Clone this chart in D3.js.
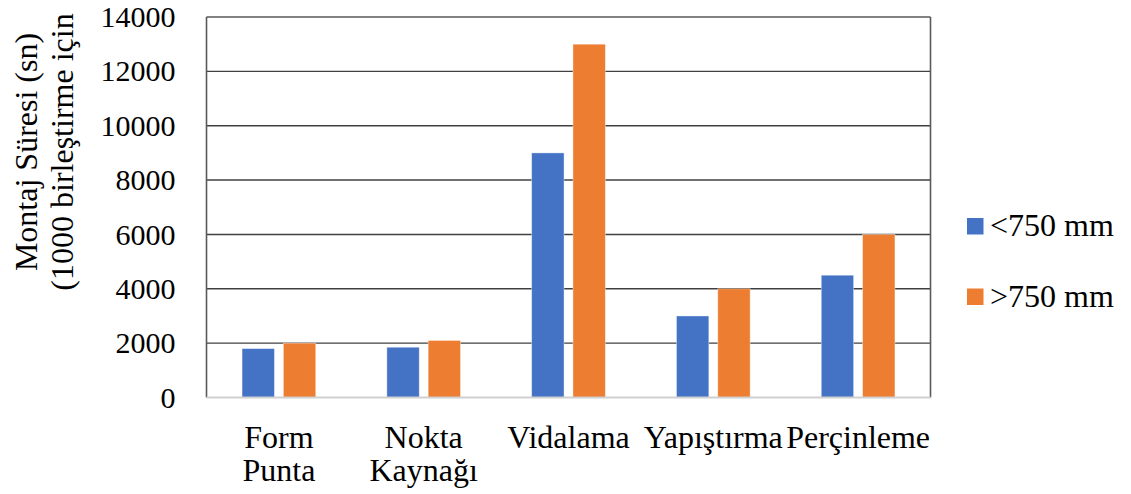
<!DOCTYPE html>
<html><head><meta charset="utf-8">
<script src="https://cdn.jsdelivr.net/npm/d3@7"></script>
<style>body{margin:0;background:#fff}svg{display:block}</style>
</head><body>
<svg id="c" width="1131" height="494"></svg>
<script>
const categories = [["Form","Punta"],["Nokta","Kaynağı"],["Vidalama"],["Yapıştırma"],["Perçinleme"]];
const seriesNames = ["<750 mm", ">750 mm"];
const seriesSmall = [1800, 1850, 9000, 3000, 4500];
const seriesLarge = [2000, 2100, 13000, 4000, 6000];
const yTicks = [0,2000,4000,6000,8000,10000,12000,14000];
const colors = ["#4472C4", "#ED7D31"];
const yTitle = ["Montaj Süresi (sn)", "(1000 birleştirme için"];

const FONT = '"Liberation Serif", "Times New Roman", Times, serif';
const svg = d3.select("#c");
const L = 206.5, R = 930.5, T = 17, B = 397.5;
const catKeys = categories.map(c => c.join(" "));
const x0 = d3.scaleBand().domain(catKeys).range([L, R]).paddingInner(0.491).paddingOuter(0.2455);
const x1 = d3.scaleBand().domain(seriesNames).range([0, x0.bandwidth()]).paddingInner(0.216);
const y = d3.scaleLinear().domain([0, 14000]).range([B, T]);
const FS = 32, TFS = 30;

// gridlines
svg.append("g").selectAll("line").data(yTicks.filter(t => t > 0 && t < 14000)).join("line")
  .attr("x1", L).attr("x2", R).attr("y1", d => y(d)).attr("y2", d => y(d))
  .attr("stroke", "#404040").attr("stroke-width", 1.4);

// bars
const data = categories.map((c, i) => ({ key: catKeys[i], vals: [seriesSmall[i], seriesLarge[i]] }));
const g = svg.append("g").selectAll("g").data(data).join("g")
  .attr("transform", d => `translate(${x0(d.key)},0)`);
g.selectAll("rect").data(d => d.vals.map((v, j) => ({ s: seriesNames[j], v, j }))).join("rect")
  .attr("x", d => x1(d.s)).attr("width", x1.bandwidth())
  .attr("y", d => y(d.v)).attr("height", d => B - y(d.v))
  .attr("fill", d => colors[d.j])
  .attr("stroke", "#fff").attr("stroke-opacity", 0.5).attr("stroke-width", 0.8);

// frame
svg.append("line").attr("x1", L).attr("x2", R).attr("y1", T).attr("y2", T).attr("stroke", "#595959").attr("stroke-width", 1.6);
svg.append("line").attr("x1", L).attr("x2", L).attr("y1", T).attr("y2", B).attr("stroke", "#595959").attr("stroke-width", 1.6);
svg.append("line").attr("x1", R).attr("x2", R).attr("y1", T).attr("y2", B).attr("stroke", "#595959").attr("stroke-width", 1.6);
svg.append("line").attr("x1", L).attr("x2", R).attr("y1", B).attr("y2", B).attr("stroke", "#d0d0d0").attr("stroke-width", 2);

// y axis labels
const yAxis = d3.axisLeft(y).tickValues(yTicks).tickSize(0).tickPadding(31).tickFormat(d3.format("d"));
const ya = svg.append("g").attr("transform", `translate(${L},0)`).call(yAxis);
ya.attr("font-family", null).attr("font-size", null);
ya.select(".domain").remove();
ya.selectAll("text").style("font-size", TFS + "px").style("font-family", FONT).attr("fill", "#000");

// x labels
const xl = svg.append("g").selectAll("text").data(data.map((d, i) => ({ key: d.key, lines: categories[i] }))).join("text")
  .attr("text-anchor", "middle").style("font-size", FS + "px").style("font-family", FONT).attr("fill", "#000");
xl.each(function(d) {
  const t = d3.select(this);
  d.lines.forEach((ln, k) => {
    t.append("tspan").attr("x", x0(d.key) + x0.bandwidth() / 2).attr("y", 448 + k * 33).text(ln);
  });
});

// y title
yTitle.forEach((ln, k) => {
  svg.append("text").attr("transform", `translate(${37 + k * 36},152) rotate(-90)`)
    .attr("text-anchor", "middle").style("font-size", FS + "px").style("font-family", FONT).attr("fill", "#000").text(ln);
});

// legend
const leg = svg.append("g").selectAll("g").data(seriesNames).join("g")
  .attr("transform", (d, i) => `translate(967,${218 + i * 70.5})`);
leg.append("rect").attr("width", 16.5).attr("height", 16.5).attr("fill", (d, i) => colors[i]);
leg.append("text").attr("x", 23).attr("y", 18).style("font-size", FS + "px").style("font-family", FONT).attr("fill", "#000").text(d => d);
</script>
</body></html>
